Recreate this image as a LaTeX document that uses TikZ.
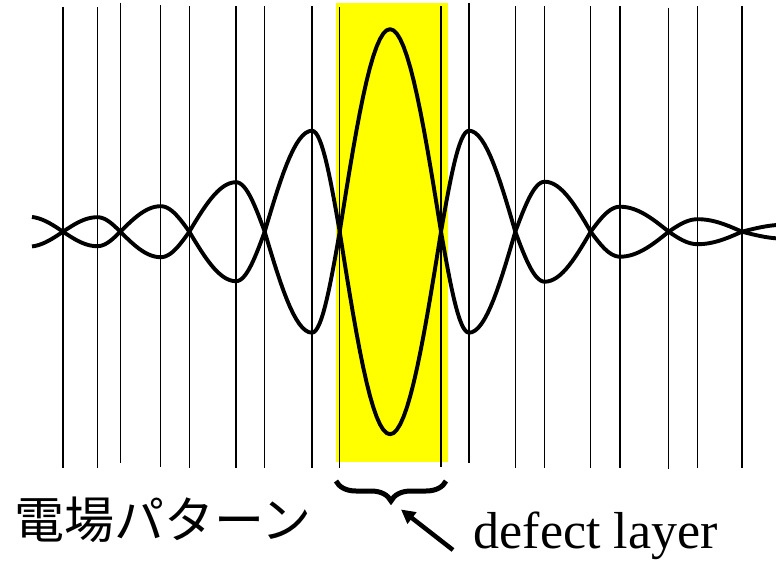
\documentclass[tikz,border=0pt]{standalone}
\usepackage{fontspec}
\setmainfont{Liberation Serif}
\newfontfamily\jpfont{Noto Sans CJK JP}
\usetikzlibrary{arrows.meta,calc,decorations.pathreplacing}
\definecolor{LayerClr}{rgb}{1,1,0}

\begin{document}
\begin{tikzpicture}[x=1pt,y=-1pt,
  wave/.style={line width=3.9pt,line cap=round,line join=round},
  film/.style={line width=1.4pt},
]
\useasboundingbox (0,0) rectangle (776,560);

% defect layer
\fill[LayerClr] (335.7,3) rectangle (447.7,461.7);

% layer boundaries
\foreach \x/\t/\b in {63/7/468,97.3/7/468,120.3/2.7/463,160.7/5/467,189.3/6.3/468,
  236/6/468,264.7/6.3/468,312/6.3/468,339.7/7.3/468,441/6/467,469/2.7/463,
  515.3/6/468,544.7/6.3/468,590.7/6/468,620/6.3/468,668.7/7.7/469,697.7/6.3/468,742/6.3/468}
  \draw[film] (\x,\t) -- (\x,\b);

% field pattern
\foreach \a/\p/\b/\A in {63/97.3/120.3/14.5,120.3/160.7/189.3/25.5,189.3/236/264.7/49.5,
  264.7/312/339.7/101,339.7/390/441/202.5,441/469/515.3/101,515.3/544.7/590.7/50,
  590.7/620/668.7/25,668.7/697.7/742/12.5}
  \foreach \s in {1,-1}
    \draw[wave] plot[domain=\a:\p,samples=16] (\x,{231.7-\s*\A*sin(90*(\x-\a)/(\p-\a))})
      -- plot[domain=\p:\b,samples=16] (\x,{231.7-\s*\A*sin(90*(\b-\x)/(\b-\p))});
\foreach \s in {1,-1}{
  \draw[wave,line cap=butt] plot[domain=32:63,samples=10] (\x,{231.7-\s*15*sin(90*(63-\x)/35)});
  \draw[wave] plot[domain=742:776,samples=10] (\x,{231.7-\s*7*sin(90*(\x-742)/43)});
}

\coordinate (bl) at (336,481);
\coordinate (br) at (446,481);
\draw[line width=5pt,decorate,decoration={brace,mirror,amplitude=20pt}] (bl) -- (br);

\node[anchor=base west,inner sep=0,font=\jpfont\fontsize{50}{60}\selectfont] (pattern) at (14,538) {電場パターン};
\node[anchor=base west,inner sep=0,font=\fontsize{52}{62}\selectfont] (defect) at (473.5,548) {defect layer};

\coordinate (tail) at (453,550);
\coordinate (tip) at (401,509.5);
\draw[line width=4.5pt,-{Triangle[length=14pt,width=14pt]}] (tail) -- (tip);
\end{tikzpicture}
\end{document}
